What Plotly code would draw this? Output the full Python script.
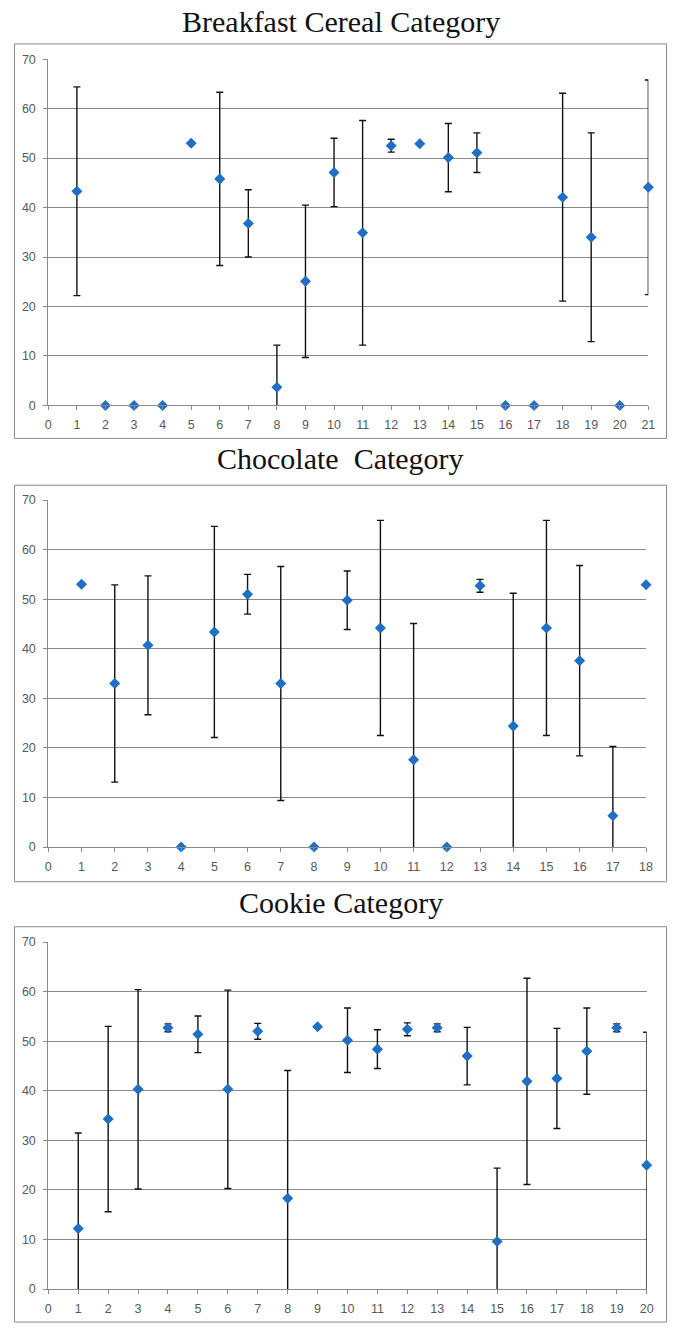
import plotly.graph_objects as go

W, H = 678, 1332

# ---------------- data ----------------
titles = ["Breakfast Cereal Category", "Chocolate  Category", "Cookie Category"]

cereal_x = list(range(1, 22))
cereal_mean = [43.3, 0, 0, 0, 53.0, 45.8, 36.8, 3.7, 25.1, 47.1, 34.9, 52.5, 52.9,
               50.1, 51.1, 0, 0, 42.1, 34.0, 0, 44.1]
cereal_err = [21.1, 0, 0, 0, 0, 17.5, 6.8, 8.5, 15.4, 6.9, 22.7, 1.3, 0, 6.9, 4.0,
              0, 0, 21.0, 21.1, 0, 21.7]

choc_x = list(range(1, 19))
choc_mean = [53.0, 33.0, 40.7, 0, 43.4, 51.0, 33.0, 0, 49.8, 44.2, 17.6, 0, 52.7,
             24.4, 44.2, 37.6, 6.3, 52.9]
choc_err = [0, 19.9, 14.0, 0, 21.3, 4.0, 23.6, 0, 5.9, 21.7, 27.5, 0, 1.3, 26.8,
            21.7, 19.2, 14.0, 0]

cookie_x = list(range(1, 21))
cookie_mean = [12.2, 34.3, 40.3, 52.7, 51.4, 40.3, 52.0, 18.3, 52.9, 50.2, 48.4,
               52.4, 52.7, 47.0, 9.6, 41.9, 42.5, 48.0, 52.7, 25.0]
cookie_err = [19.3, 18.7, 20.1, 0.8, 3.7, 20.0, 1.6, 25.8, 0, 6.5, 3.9, 1.3, 0.8,
              5.8, 14.8, 20.8, 10.1, 8.7, 0.8, 26.8]

x_max = [21, 18, 20]
y_ticks = [0, 10, 20, 30, 40, 50, 60, 70]

series = [(cereal_x, cereal_mean, cereal_err),
          (choc_x, choc_mean, choc_err),
          (cookie_x, cookie_mean, cookie_err)]

# ---------------- layout geometry (pixels) ----------------
# (box left, box top, box right, box bottom), (plot left, plot top, plot right, plot bottom), title y
panels = [
    ((11.7, 37.3, 673.5, 436.0), (46, 52.7, 655.0, 402.7), 14.5),
    ((11.7, 483.3, 673.5, 884.0), (46, 498.3, 652.7, 849.0), 456.0),
    ((11.7, 929.5, 673.5, 1329.0), (46, 945.0, 653.3, 1295.7), 905.0),
]

def px(x):
    return x / W

def py(y):
    return 1 - y / H

MARKER = "#1F6FC5"
GRID = "#8a8a8a"
TICKC = "#595959"

fig = go.Figure()
layout = dict(width=W, height=H, autosize=False,
              margin=dict(l=0, r=0, t=0, b=0),
              paper_bgcolor="white", plot_bgcolor="white",
              showlegend=False, shapes=[], annotations=[])

for i, ((xs, ms, es), (box, plot, ty)) in enumerate(zip(series, panels)):
    n = "" if i == 0 else str(i + 1)
    xa, ya = "x" + n, "y" + n
    ex = [xv for xv, e in zip(xs, es) if e > 0]
    em = [m for m, e in zip(ms, es) if e > 0]
    ee = [e for e in es if e > 0]
    # error bars (clipped to plot area)
    fig.add_trace(go.Scatter(
        x=ex, y=em, mode="markers", xaxis=xa, yaxis=ya,
        marker=dict(size=1, opacity=0),
        error_y=dict(type="data", array=ee, symmetric=True, visible=True,
                     color="#111111", thickness=1.4, width=3.5),
        cliponaxis=True, hoverinfo="skip"))
    # markers (not clipped)
    fig.add_trace(go.Scatter(
        x=xs, y=ms, mode="markers", xaxis=xa, yaxis=ya,
        marker=dict(symbol="diamond", size=8.5, color=MARKER, line=dict(width=0)),
        cliponaxis=False))

    l, t, r, b = plot
    layout["xaxis" + n] = dict(
        domain=[px(l), px(r)], range=[0, x_max[i]], anchor=ya,
        tickmode="array", tickvals=list(range(0, x_max[i] + 1)),
        ticks="outside", ticklen=4, tickcolor=GRID, tickwidth=1,
        showline=True, linecolor=GRID, linewidth=1,
        showgrid=False, zeroline=False, fixedrange=True,
        tickfont=dict(family="Liberation Sans", size=12.5, color=TICKC),
        ticklabelstandoff=4)
    layout["yaxis" + n] = dict(
        domain=[py(b), py(t)], range=[0, 70], anchor=xa,
        tickmode="array", tickvals=y_ticks,
        ticks="outside", ticklen=4, tickcolor=GRID, tickwidth=1,
        showline=True, linecolor=GRID, linewidth=1,
        showgrid=True, gridcolor=GRID, gridwidth=1, zeroline=False,
        fixedrange=True,
        tickfont=dict(family="Liberation Sans", size=12.5, color=TICKC),
        ticklabelstandoff=5)

    bl, bt, br, bb = box
    layout["shapes"].append(dict(
        type="rect", xref="paper", yref="paper",
        x0=px(bl), x1=px(br), y0=py(bb), y1=py(bt),
        line=dict(color=GRID, width=1), fillcolor="rgba(0,0,0,0)", layer="below"))
    layout["annotations"].append(dict(
        text=titles[i].replace("  ", "&nbsp; "), xref="paper", yref="paper",
        x=px((bl + br) / 2), y=py(ty), xanchor="center", yanchor="middle",
        showarrow=False,
        font=dict(family="Liberation Serif", size=30, color="#111111")))

fig.update_layout(**layout)

fig.write_html("out.html", include_plotlyjs=True, full_html=True,
               config={"displayModeBar": False},
               post_script="document.body.style.margin='0';document.body.style.overflow='hidden';")
